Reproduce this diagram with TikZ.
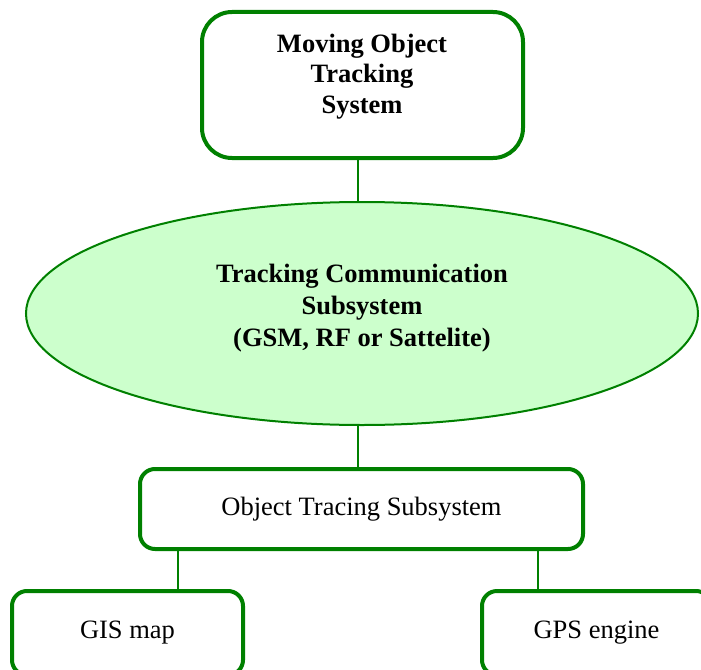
\documentclass[tikz,border=0pt]{standalone}
\usepackage{fontspec}
\setmainfont{Liberation Serif}
\usetikzlibrary{shapes.geometric}
\definecolor{boxgreen}{RGB}{0,128,0}
\definecolor{ellfill}{RGB}{204,255,204}
\begin{document}
\begin{tikzpicture}[x=1pt,y=-1pt,
  roundbox/.style={draw=boxgreen,line width=4pt,rectangle,rounded corners=15pt,inner sep=0pt,fill=white},
  boldtext/.style={font=\fontsize{26.5}{30.5}\selectfont\bfseries,align=center,inner sep=0pt},
  plaintext/.style={font=\fontsize{26.5}{30.5}\selectfont},
  conn/.style={draw=boxgreen,line width=2pt}]
\useasboundingbox (0,0) rectangle (701,669);
\clip (0,0) rectangle (701,669);
% nodes
\node[roundbox,rounded corners=30pt,minimum width=321pt,minimum height=146pt] (top) at (362.5,85) {};
\node[boldtext] (toptext) at (362,76.5) {Moving Object\\Tracking\\System};
\node[ellipse,draw=boxgreen,line width=2pt,fill=ellfill,minimum width=672pt,minimum height=223pt,inner sep=0pt] (ell) at (362,313.5) {};
\node[boldtext,font=\fontsize{26.5}{32}\selectfont\bfseries] (elltext) at (362,308) {Tracking Communication\\Subsystem\\(GSM, RF or Sattelite)};
\node[roundbox,plaintext,minimum width=443pt,minimum height=80pt] (mid) at (361.5,509) {Object Tracing Subsystem};
\node[roundbox,plaintext,minimum width=231pt,minimum height=84pt] (gis) at (127.5,633) {GIS map};
\node[roundbox,plaintext,minimum width=229pt,minimum height=84pt] (gps) at (596.5,633) {GPS engine};
% connectors
\draw[conn] (top.south -| 358,0) -- (ell.north -| 358,0);
\draw[conn] (ell.south -| 358,0) -- (mid.north -| 358,0);
\draw[conn] (mid.south -| 178,0) -- (gis.north -| 178,0);
\draw[conn] (mid.south -| 538,0) -- (gps.north -| 538,0);
\end{tikzpicture}
\end{document}
